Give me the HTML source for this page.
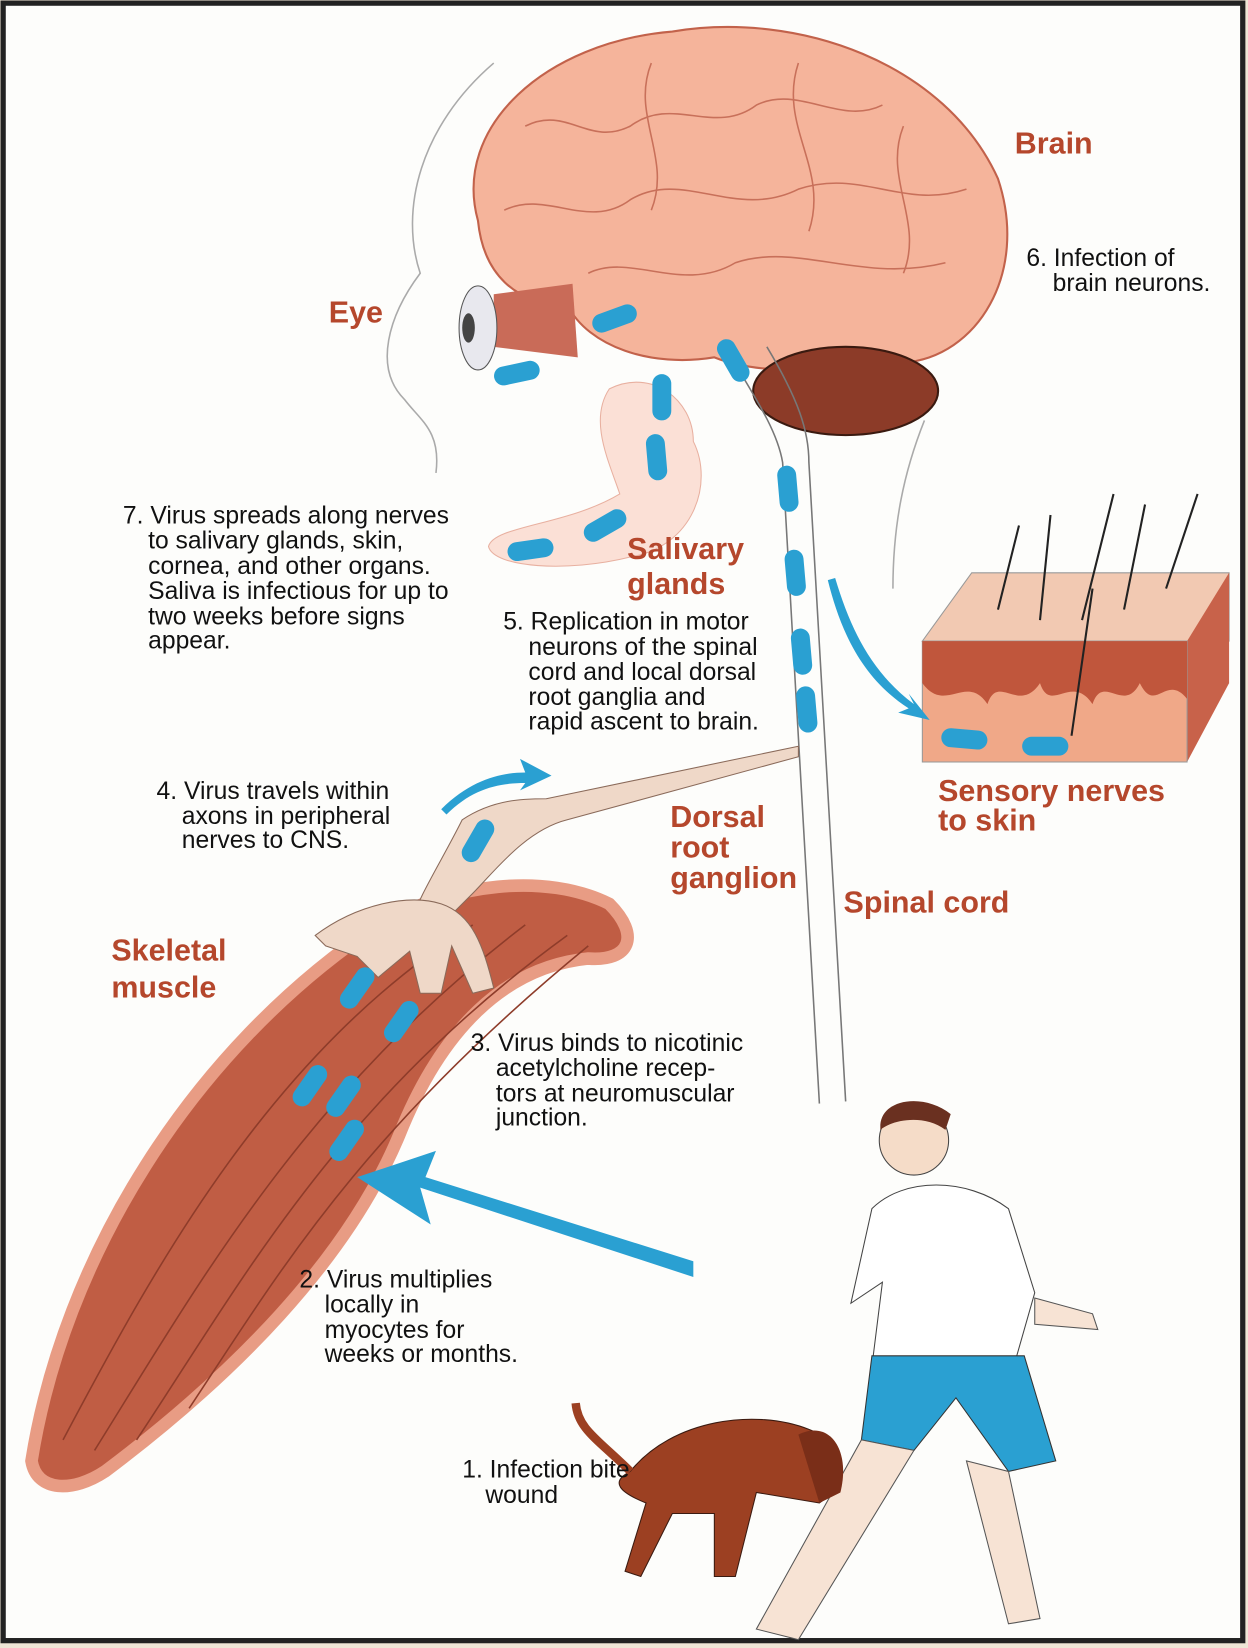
<!DOCTYPE html>
<html><head><meta charset="utf-8"><style>
html,body{margin:0;padding:0;background:#fff;}
svg{display:block}
text{font-family:"Liberation Sans",sans-serif;}
.lab{font-weight:bold;fill:#b5472c;font-size:29px;}
.t{fill:#111;font-size:23.5px;}
.d{fill:#2aa0d2;}
</style></head><body>
<svg width="1248" height="1648" viewBox="0 0 1188 1568" preserveAspectRatio="none" xmlns="http://www.w3.org/2000/svg">
<rect x="0" y="0" width="1188" height="1568" fill="#efe6d6"/>
<rect x="3" y="3" width="1180" height="1558" fill="#fdfdfb" stroke="#222" stroke-width="5"/>
<!-- head outline -->
<path d="M470 60 C400 120 380 200 400 260 C370 300 355 350 385 380 C400 400 420 410 415 450 M880 400 C860 450 850 500 850 560" fill="none" stroke="#aaa" stroke-width="1.5"/>
<!-- brain -->
<path d="M455 210 C430 120 520 40 640 30 C760 10 900 60 950 170 C980 260 930 340 860 345 C800 350 730 360 680 340 C620 350 560 330 540 290 C490 290 460 260 455 210Z" fill="#f5b49b" stroke="#c2624b" stroke-width="2"/>
<g fill="none" stroke="#c8705a" stroke-width="1.5">
<path d="M500 120 C540 100 560 140 600 120 C640 90 680 130 720 100 C760 80 800 120 840 100"/>
<path d="M480 200 C520 180 560 220 600 190 C650 160 700 210 760 180 C820 160 860 200 920 180"/>
<path d="M560 260 C600 240 650 280 700 250 C760 230 820 270 900 250"/>
<path d="M620 60 C600 110 640 150 620 200 M760 60 C740 120 790 160 770 220 M860 120 C840 170 880 210 860 260"/>
</g>
<ellipse cx="805" cy="372" rx="88" ry="42" fill="#8c3b28" stroke="#3a1a10" stroke-width="2"/>
<!-- brainstem / spinal cord -->
<path d="M690 330 C720 380 740 410 745 440 L780 1050" fill="none" stroke="#777" stroke-width="1.5"/>
<path d="M730 330 C760 380 770 410 770 440 L805 1048" fill="none" stroke="#777" stroke-width="1.5"/>
<!-- eye -->
<path d="M470 280 L545 270 L550 340 L470 330Z" fill="#c96b58"/>
<ellipse cx="455" cy="312" rx="18" ry="40" fill="#e8e8ee" stroke="#555"/>
<ellipse cx="446" cy="312" rx="6" ry="14" fill="#444"/>
<!-- salivary -->
<path d="M580 370 C620 350 660 380 660 420 C680 460 660 520 600 530 C540 545 470 540 465 520 C470 500 540 500 590 470 C580 440 560 400 580 370Z" fill="#fbe0d6" stroke="#e8b0a0"/>
<!-- skin block -->
<path d="M878 610 L925 545 L1170 545 L1170 610Z" fill="#f2c9b2" stroke="#999"/>
<path d="M1170 545 L1170 650 L1130 725 L1130 610Z" fill="#c8624a"/>
<rect x="878" y="610" width="252" height="115" fill="#f0a888" stroke="#999"/>
<path d="M878 610 L1130 610 L1130 665 C1110 640 1100 680 1085 650 C1070 680 1050 640 1040 670 C1020 640 1000 680 990 650 C970 680 950 640 940 670 C920 640 900 680 878 650Z" fill="#c0563c"/>
<g stroke="#222" stroke-width="2" fill="none"><path d="M950 580 L970 500 M990 590 L1000 490 M1030 590 L1060 470 M1070 580 L1090 480 M1110 560 L1140 470 M1020 700 L1040 560"/></g>
<!-- muscle -->
<path d="M30 1390 C60 1200 180 1000 360 880 C430 840 520 830 580 860 C610 890 600 915 560 912 C480 920 420 980 380 1080 C330 1200 220 1310 100 1400 C70 1420 35 1420 30 1390Z" fill="#c05d44" stroke="#e89c84" stroke-width="12"/>
<g stroke="#8e3c2a" stroke-width="1.5" fill="none">
<path d="M60 1370 C150 1200 260 1000 450 880 M90 1380 C190 1220 290 1040 500 880 M130 1370 C230 1220 320 1050 540 890 M180 1340 C260 1220 340 1080 560 900"/>
</g>
<path d="M440 780 C470 760 500 760 520 760 L760 710 L760 720 L540 780 C500 790 470 830 450 850 L420 880 L390 880 C400 850 420 820 440 780Z" fill="#efd8c8" stroke="#8a6a5a"/>
<path d="M300 890 C340 860 390 850 420 860 C450 870 460 900 470 940 L450 945 L430 900 L420 945 L400 945 L390 905 L360 930 L340 910 L310 900Z" fill="#efd8c8" stroke="#8a6a5a"/>
<!-- person -->
<circle cx="870" cy="1085" r="33" fill="#f5dcc8" stroke="#444"/>
<path d="M838 1070 C840 1045 880 1040 905 1060 L900 1075 C880 1060 850 1065 838 1075Z" fill="#6a3020"/>
<path d="M830 1150 C860 1120 920 1120 960 1150 L985 1230 L965 1300 L830 1300 L840 1220 L810 1240 Z" fill="#fff" stroke="#444"/>
<path d="M830 1290 L975 1290 L1005 1390 L960 1400 L910 1330 L870 1380 L820 1370Z" fill="#2aa0d2" stroke="#333"/>
<path d="M820 1370 L870 1380 L760 1560 L720 1550Z M920 1390 L960 1400 L990 1540 L960 1545Z" fill="#f7e3d4" stroke="#555"/>
<path d="M985 1235 L1040 1250 L1045 1265 L985 1260Z" fill="#f7e3d4" stroke="#555"/>
<!-- dog -->
<path d="M600 1400 C640 1350 720 1340 770 1360 C800 1370 810 1410 780 1430 L720 1420 L700 1500 L680 1500 L680 1440 L640 1440 L610 1500 L595 1495 L615 1430 C590 1420 580 1410 600 1400Z" fill="#9c4022" stroke="#3a1a10"/>
<path d="M760 1365 C790 1350 810 1380 800 1420 L780 1430Z" fill="#7a2e18"/>
<path d="M600 1400 C570 1370 550 1360 548 1335" fill="none" stroke="#9c4022" stroke-width="8"/>
<!-- arrows -->
<path d="M660 1215 L400 1130 L410 1165 L340 1120 L415 1095 L405 1120 L660 1200Z" fill="#2aa0d2"/>
<path d="M420 770 C450 740 480 735 500 735 L495 722 L525 738 L495 752 L500 745 C475 745 450 750 425 775Z" fill="#2aa0d2"/>
<path d="M795 550 C810 600 830 640 870 670 L865 660 L885 685 L855 678 L865 674 C820 645 800 600 788 552Z" fill="#2aa0d2"/>
<!-- dashes -->
<g class="d">
<rect x="-22" y="-9" width="44" height="18" rx="9" transform="translate(492,355) rotate(-12)"/>
<rect x="-22" y="-9" width="44" height="18" rx="9" transform="translate(585,303) rotate(-20)"/>
<rect x="-22" y="-9" width="44" height="18" rx="9" transform="translate(698,343) rotate(60)"/>
<rect x="-22" y="-9" width="44" height="18" rx="9" transform="translate(630,378) rotate(90)"/>
<rect x="-22" y="-9" width="44" height="18" rx="9" transform="translate(625,435) rotate(85)"/>
<rect x="-22" y="-9" width="44" height="18" rx="9" transform="translate(576,500) rotate(-30)"/>
<rect x="-22" y="-9" width="44" height="18" rx="9" transform="translate(505,523) rotate(-8)"/>
<rect x="-22" y="-9" width="44" height="18" rx="9" transform="translate(750,465) rotate(85)"/>
<rect x="-22" y="-9" width="44" height="18" rx="9" transform="translate(757,545) rotate(85)"/>
<rect x="-22" y="-9" width="44" height="18" rx="9" transform="translate(763,620) rotate(85)"/>
<rect x="-22" y="-9" width="44" height="18" rx="9" transform="translate(768,675) rotate(85)"/>
<rect x="-22" y="-9" width="44" height="18" rx="9" transform="translate(918,703) rotate(5)"/>
<rect x="-22" y="-9" width="44" height="18" rx="9" transform="translate(995,710)"/>
<rect x="-22" y="-9" width="44" height="18" rx="9" transform="translate(455,800) rotate(-60)"/>
<rect x="-22" y="-9" width="44" height="18" rx="9" transform="translate(340,940) rotate(-55)"/>
<rect x="-22" y="-9" width="44" height="18" rx="9" transform="translate(382,972) rotate(-55)"/>
<rect x="-22" y="-9" width="44" height="18" rx="9" transform="translate(295,1033) rotate(-55)"/>
<rect x="-22" y="-9" width="44" height="18" rx="9" transform="translate(327,1043) rotate(-55)"/>
<rect x="-22" y="-9" width="44" height="18" rx="9" transform="translate(330,1085) rotate(-55)"/>
</g>
<!-- labels -->
<text class="lab" x="966" y="146">Brain</text>
<text class="lab" x="313" y="307">Eye</text>
<text class="lab" x="597" y="532">Salivary</text>
<text class="lab" x="597" y="565">glands</text>
<text class="lab" x="893" y="762">Sensory nerves</text>
<text class="lab" x="893" y="790">to skin</text>
<text class="lab" x="638" y="787">Dorsal</text>
<text class="lab" x="638" y="816">root</text>
<text class="lab" x="638" y="845">ganglion</text>
<text class="lab" x="803" y="868">Spinal cord</text>
<text class="lab" x="106" y="914">Skeletal</text>
<text class="lab" x="106" y="949">muscle</text>
<g class="t">
<text x="977" y="253">6. Infection of</text><text x="1002" y="277">brain neurons.</text>
<text x="117" y="498">7. Virus spreads along nerves</text><text x="141" y="522">to  salivary glands, skin,</text><text x="141" y="546">cornea, and other organs.</text><text x="141" y="570">Saliva is infectious for up to</text><text x="141" y="594">two weeks before signs</text><text x="141" y="617">appear.</text>
<text x="479" y="599">5. Replication in motor</text><text x="503" y="623">neurons of the spinal</text><text x="503" y="647">cord and local dorsal</text><text x="503" y="671">root ganglia and</text><text x="503" y="694">rapid ascent to brain.</text>
<text x="149" y="760">4. Virus travels within</text><text x="173" y="784">axons in peripheral</text><text x="173" y="807">nerves to CNS.</text>
<text x="448" y="1000">3. Virus binds to nicotinic</text><text x="472" y="1024">acetylcholine recep-</text><text x="472" y="1048">tors at neuromuscular</text><text x="472" y="1071">junction.</text>
<text x="285" y="1225">2. Virus multiplies</text><text x="309" y="1249">locally in</text><text x="309" y="1273">myocytes for</text><text x="309" y="1296">weeks or months.</text>
<text x="440" y="1406">1. Infection bite</text><text x="462" y="1430">wound</text>
</g>
</svg>
</body></html>
